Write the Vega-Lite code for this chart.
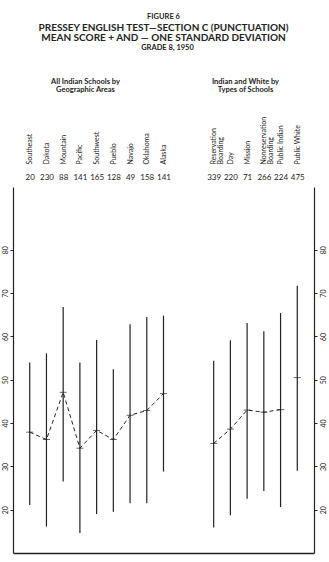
{
  "$schema": "https://vega.github.io/schema/vega-lite/v6.json",
  "autosize": {"type": "none"},
  "width": 301,
  "height": 366,
  "padding": {"left": 13, "top": 187, "right": 15, "bottom": 9},
  "background": "white",
  "config": {"font": "Lato", "view": {"stroke": null}, "axis": {"grid": false, "domainColor": "#222", "tickColor": "#222", "labelColor": "#222", "titleColor": "#222"}},
  "title": {
    "text": "FIGURE 6",
    "subtitle": ["PRESSEY ENGLISH TEST—SECTION C (PUNCTUATION)", "MEAN SCORE + AND — ONE STANDARD DEVIATION"],
    "fontSize": 7.5,
    "fontWeight": "bold",
    "color": "#222",
    "subtitleFontSize": 10,
    "subtitleFontWeight": "bold",
    "subtitleColor": "#222",
    "subtitleLineHeight": 10.5,
    "subtitlePadding": 2,
    "anchor": "middle",
    "frame": "group",
    "offset": 0
  },
  "data": {
    "values": [
      {"school": "Southeast", "group": "geo", "n": 20, "lo": 21.1, "mean": 37.9, "hi": 54.0},
      {"school": "Dakota", "group": "geo", "n": 230, "lo": 16.1, "mean": 36.2, "hi": 56.1},
      {"school": "Mountain", "group": "geo", "n": 88, "lo": 26.5, "mean": 47.1, "hi": 66.8},
      {"school": "Pacific", "group": "geo", "n": 141, "lo": 14.6, "mean": 34.2, "hi": 54.0},
      {"school": "Southwest", "group": "geo", "n": 165, "lo": 19.0, "mean": 38.3, "hi": 59.2},
      {"school": "Pueblo", "group": "geo", "n": 128, "lo": 19.5, "mean": 36.2, "hi": 52.4},
      {"school": "Navajo", "group": "geo", "n": 49, "lo": 21.5, "mean": 41.8, "hi": 62.8},
      {"school": "Oklahoma", "group": "geo", "n": 158, "lo": 21.5, "mean": 42.9, "hi": 64.5},
      {"school": "Alaska", "group": "geo", "n": 141, "lo": 28.8, "mean": 46.8, "hi": 64.8},
      {"school": "Reservation Boarding", "group": "type", "n": 339, "lo": 15.9, "mean": 35.3, "hi": 54.4},
      {"school": "Day", "group": "type", "n": 220, "lo": 18.7, "mean": 38.6, "hi": 59.1},
      {"school": "Mission", "group": "type", "n": 71, "lo": 22.5, "mean": 43.0, "hi": 63.1},
      {"school": "Nonreservation Boarding", "group": "type", "n": 266, "lo": 24.3, "mean": 42.5, "hi": 61.2},
      {"school": "Public Indian", "group": "type", "n": 224, "lo": 20.6, "mean": 43.1, "hi": 65.4},
      {"school": "Public White", "group": "white", "n": 475, "lo": 29.0, "mean": 50.5, "hi": 71.7}
    ]
  },
  "transform": [{"calculate": "datum.school + '|' + datum.n", "as": "key"}],
  "layer": [
    {
      "mark": {"type": "rule", "color": "#222", "strokeWidth": 1.2},
      "encoding": {
        "x": {
          "field": "key", "type": "nominal",
          "scale": {"type": "point", "padding": 1.1, "domain": ["Southeast|20","Dakota|230","Mountain|88","Pacific|141","Southwest|165","Pueblo|128","Navajo|49","Oklahoma|158","Alaska|141","gap1","gap2","Reservation Boarding|339","Day|220","Mission|71","Nonreservation Boarding|266","Public Indian|224","Public White|475"]},
          "axis": {
            "orient": "top", "offset": 20, "domain": false, "ticks": false,
            "labelAngle": -90, "labelAlign": "left", "labelBaseline": "middle",
            "labelPadding": 3, "labelFontSize": 7, "labelLineHeight": 6.5, "labelOverlap": false, "labelBound": false, "labelFlush": false,
            "labelExpr": "indexof(datum.label,'|') < 0 ? '' : (indexof(datum.label,' Boarding') > 0 ? [split(datum.label,' ')[0], 'Boarding'] : split(datum.label,'|')[0])",
            "title": ["All Indian Schools by", "Geographic Areas"],
            "titleFontSize": 7.5, "titleFontWeight": "bold", "titleLineHeight": 8,
            "titleAngle": 0, "titleX": 72, "titleY": -82, "titleAlign": "center", "titleBaseline": "bottom"
          }
        },
        "y": {
          "field": "lo", "type": "quantitative",
          "scale": {"domain": [10, 94.5], "nice": false, "zero": false},
          "axis": {
            "orient": "left", "values": [20, 30, 40, 50, 60, 70, 80],
            "tickSize": 3, "labelPadding": 2, "labelAngle": -90, "labelAlign": "center", "labelBaseline": "bottom", "labelFontSize": 7,
            "domainWidth": 1.2,
            "title": "GRADE 8, 1950", "titleAngle": 0, "titleX": 154, "titleY": -140,
            "titleAlign": "center", "titleBaseline": "middle", "titleFontSize": 7.5, "titleFontWeight": "bold"
          }
        },
        "y2": {"field": "hi"}
      }
    },
    {
      "mark": {"type": "tick", "orient": "horizontal", "color": "#222", "size": 7, "thickness": 1},
      "encoding": {
        "x": {
          "field": "key", "type": "nominal",
          "axis": {
            "orient": "top", "offset": 0, "domain": false, "ticks": false,
            "labelAngle": 0, "labelAlign": "center", "labelBaseline": "bottom",
            "labelPadding": 6, "labelFontSize": 8, "labelOverlap": false, "labelBound": false, "labelFlush": false,
            "labelExpr": "indexof(datum.label,'|') < 0 ? '' : split(datum.label,'|')[1]",
            "title": ["Indian and White by", "Types of Schools"],
            "titleFontSize": 7.5, "titleFontWeight": "bold", "titleLineHeight": 8,
            "titleAngle": 0, "titleX": 232, "titleY": -102, "titleAlign": "center", "titleBaseline": "bottom"
          }
        },
        "y": {
          "field": "mean", "type": "quantitative",
          "axis": {
            "orient": "right", "values": [20, 30, 40, 50, 60, 70, 80],
            "tickSize": 3, "labelPadding": 2, "labelAngle": -90, "labelAlign": "center", "labelBaseline": "top", "labelFontSize": 7,
            "domainWidth": 1.2, "title": null
          }
        }
      }
    },
    {
      "mark": {"type": "line", "color": "#222", "strokeWidth": 1, "strokeDash": [4, 3]},
      "encoding": {
        "x": {
          "field": "key", "type": "nominal",
          "axis": {"orient": "bottom", "labels": false, "ticks": false, "domain": true, "domainWidth": 1.5, "title": null}
        },
        "y": {"field": "mean", "type": "quantitative", "axis": null},
        "detail": {"field": "group"}
      }
    }
  ],
  "resolve": {"axis": {"x": "independent", "y": "independent"}}
}
